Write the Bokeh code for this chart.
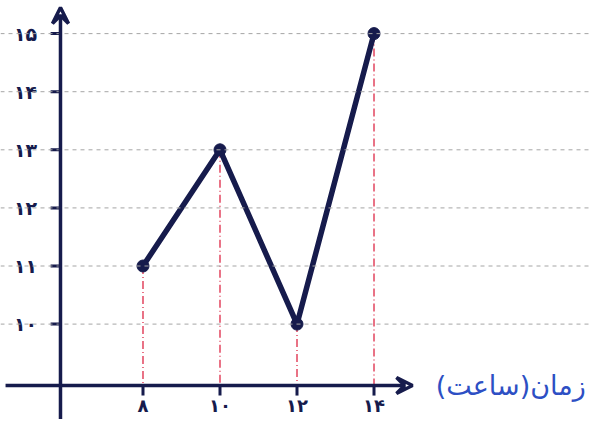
from bokeh.plotting import figure
from bokeh.models import Span, Arrow, VeeHead, Range1d, ColumnDataSource
from bokeh.embed import file_html
from bokeh.resources import INLINE
from bokeh.core.properties import value

# data
hours = [8, 10, 12, 14]
values = [11, 13, 10, 15]
y_ticks = [10, 11, 12, 13, 14, 15]
y_tick_labels = ["۱۰", "۱۱", "۱۲", "۱۳", "۱۴", "۱۵"]
x_ticks = [8, 10, 12, 14]
x_tick_labels = ["۸", "۱۰", "۱۲", "۱۴"]
x_title = "زمان(ساعت)"

# layout constants (data units)
X0, X1 = 4.299, 19.649
Y0, Y1 = 8.358, 15.570
AXIS_Y = 8.943
AXIS_X = 5.857
NAVY = "#161b4c"
RED = "#e2445e"
BLUE = "#2d4fc4"

p = figure(width=591, height=419, output_backend="svg", toolbar_location=None,
           x_range=Range1d(X0, X1), y_range=Range1d(Y0, Y1),
           min_border=0, outline_line_color=None)
p.axis.visible = False
p.grid.visible = False
p.background_fill_color = "white"

# dashed horizontal guides
for yv in y_ticks:
    p.add_layout(Span(location=yv, dimension="width", line_color="#a5a5a5",
                      line_dash="4 4", line_width=1))

# red drop lines
p.segment(x0=hours, y0=values, x1=hours, y1=[AXIS_Y] * len(hours),
          line_color=RED, line_dash="8 3 1 3", line_width=1.5)

# axes with arrows
p.add_layout(Arrow(x_start=4.43, y_start=AXIS_Y, x_end=15.0, y_end=AXIS_Y,
                   line_color=NAVY, line_width=3.5,
                   end=VeeHead(size=16, line_color=NAVY, line_width=3.5, fill_color=None)))
p.add_layout(Arrow(x_start=AXIS_X, y_start=8.2, x_end=AXIS_X, y_end=15.45,
                   line_color=NAVY, line_width=3.5,
                   end=VeeHead(size=16, line_color=NAVY, line_width=3.5, fill_color=None)))

# ticks
p.segment(x0=[5.60] * len(y_ticks), y0=y_ticks, x1=[AXIS_X] * len(y_ticks), y1=y_ticks,
          line_color=NAVY, line_width=3)
p.segment(x0=x_ticks, y0=[AXIS_Y] * len(x_ticks), x1=x_ticks, y1=[8.77] * len(x_ticks),
          line_color=NAVY, line_width=3)

# tick labels
p.text(x=[4.95] * len(y_ticks), y=y_ticks, text=y_tick_labels,
       text_font=value("DejaVu Sans"), text_font_size="19px", text_font_style="bold",
       text_color=NAVY, text_align="center", text_baseline="middle")
p.text(x=x_ticks, y=[8.60] * len(x_ticks), text=x_tick_labels,
       text_font=value("DejaVu Sans"), text_font_size="18px", text_font_style="bold",
       text_color=NAVY, text_align="center", text_baseline="middle")

# axis title
p.text(x=[17.55], y=[AXIS_Y], text=[x_title],
       text_font=value("DejaVu Sans"), text_font_size="27px",
       text_color=BLUE, text_align="center", text_baseline="middle")

# main line
src = ColumnDataSource(dict(x=hours, y=values))
p.line("x", "y", source=src, line_color=NAVY, line_width=5.5, line_join="round")
p.scatter("x", "y", source=src, size=12, fill_color=NAVY, line_color=NAVY)

open("out.html", "w").write(file_html(p, INLINE))
